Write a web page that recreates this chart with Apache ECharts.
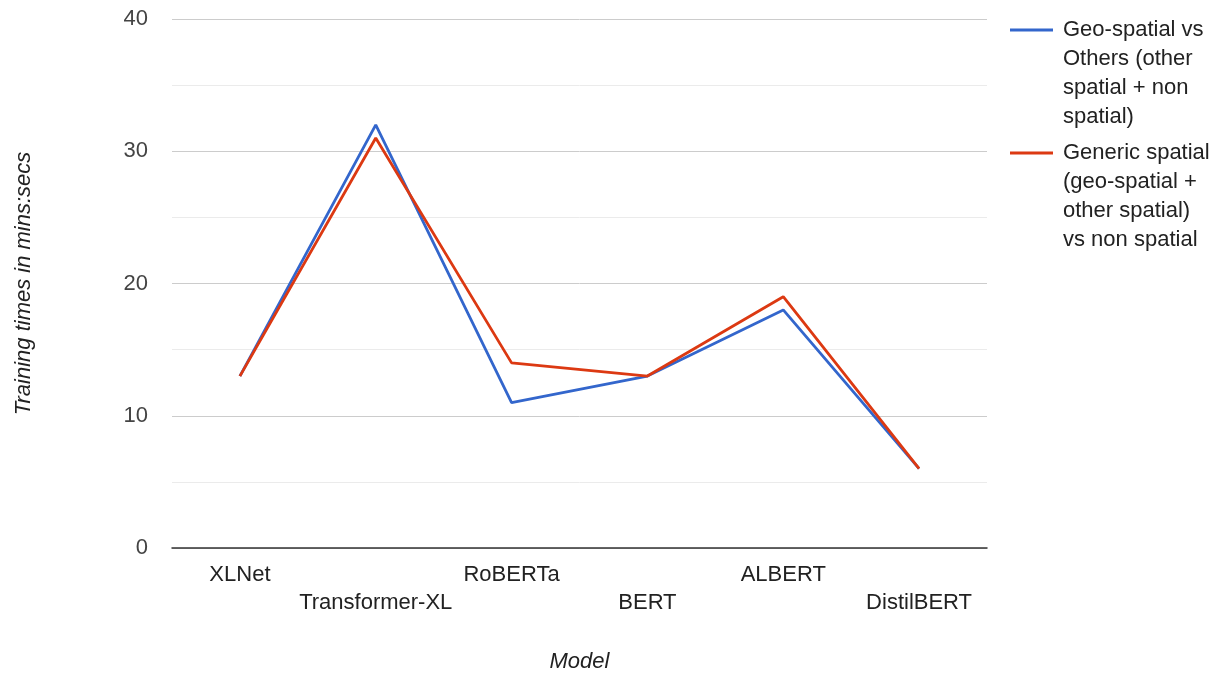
<!DOCTYPE html>
<html><head><meta charset="utf-8">
<script src="https://cdn.jsdelivr.net/npm/echarts@6/dist/echarts.min.js"></script>
<style>html,body{margin:0;padding:0;background:#fff}#c{width:1223px;height:676px}</style>
</head><body><div id="c"></div>
<script>
const categories = ['XLNet','Transformer-XL','RoBERTa','BERT','ALBERT','DistilBERT'];
const geoVsOthers = [13, 32, 11, 13, 18, 6];
const genericVsNon = [13, 31, 14, 13, 19, 6];
const seriesNames = [
  'Geo-spatial vs\nOthers (other\nspatial + non\nspatial)',
  'Generic spatial\n(geo-spatial +\nother spatial)\nvs non spatial'
];
const colors = ['#3366cc', '#dc3912'];
const FONT = 'Liberation Sans, Arial, sans-serif';

const chart = echarts.init(document.getElementById('c'));
chart.setOption({
  animation: false,
  grid: {left: 172, right: 236, top: 19, bottom: 128, containLabel: false, outerBoundsMode: 'none'},
  xAxis: {
    type: 'category', data: categories, boundaryGap: true,
    name: 'Model', nameLocation: 'middle', nameGap: 103,
    nameTextStyle: {fontFamily: FONT, fontSize: 22, fontStyle: 'italic', color: '#222'},
    axisLine: {lineStyle: {color: '#333', width: 1.5}},
    axisTick: {show: false},
    axisLabel: {interval: 0, margin: 13, fontFamily: FONT, fontSize: 22, color: '#222', lineHeight: 28,
      formatter: (v, i) => (i % 2 === 1 ? '\n' + v : v + '\n')}
  },
  yAxis: {
    type: 'value', min: 0, max: 40, interval: 10,
    name: 'Training times in mins:secs', nameLocation: 'middle', nameGap: 137,
    nameTextStyle: {fontFamily: FONT, fontSize: 22, fontStyle: 'italic', color: '#222'},
    axisLine: {show: false}, axisTick: {show: false},
    axisLabel: {margin: 24, fontFamily: FONT, fontSize: 22, color: '#444'},
    splitLine: {lineStyle: {color: '#cccccc', width: 1}},
    minorTick: {show: false, splitNumber: 2},
    minorSplitLine: {show: true, lineStyle: {color: '#ebebeb', width: 1}}
  },
  series: [
    {name: seriesNames[0], type: 'line', data: geoVsOthers, showSymbol: false, symbol: 'none',
     lineStyle: {color: colors[0], width: 2.8}, itemStyle: {color: colors[0]}},
    {name: seriesNames[1], type: 'line', data: genericVsNon, showSymbol: false, symbol: 'none',
     lineStyle: {color: colors[1], width: 2.8}, itemStyle: {color: colors[1]}}
  ],
  graphic: [
    {type: 'line', shape: {x1: 1010, y1: 30, x2: 1053, y2: 30}, style: {stroke: colors[0], lineWidth: 3}},
    {type: 'text', left: 1063, top: 15, style: {text: seriesNames[0], font: '22px ' + FONT, fill: '#222', lineHeight: 29}},
    {type: 'line', shape: {x1: 1010, y1: 153, x2: 1053, y2: 153}, style: {stroke: colors[1], lineWidth: 3}},
    {type: 'text', left: 1063, top: 138, style: {text: seriesNames[1], font: '22px ' + FONT, fill: '#222', lineHeight: 29}}
  ]
});
</script></body></html>
